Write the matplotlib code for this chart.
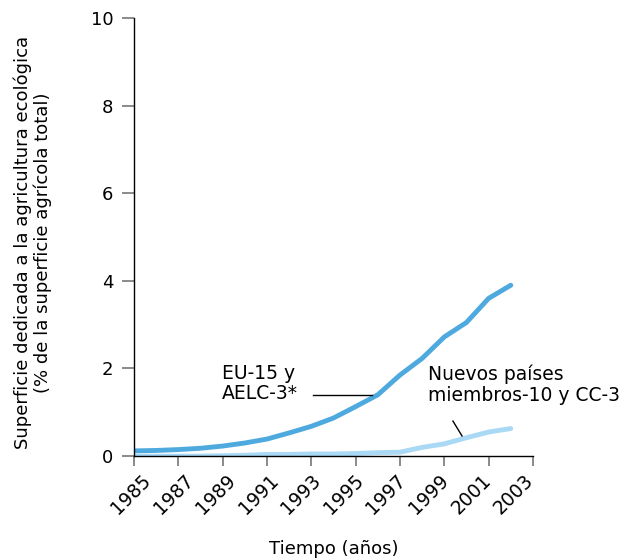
import matplotlib
matplotlib.use('Agg')
import matplotlib.pyplot as plt
from matplotlib.transforms import ScaledTranslation, blended_transform_factory

# Data
years = list(range(1985, 2003))
eu15_aelc3 = [0.12, 0.13, 0.15, 0.18, 0.23, 0.30, 0.39, 0.53, 0.68, 0.87,
              1.13, 1.40, 1.85, 2.23, 2.72, 3.05, 3.60, 3.90]
nuevos_cc3 = [0.0, 0.0, 0.0, 0.0, 0.01, 0.02, 0.04, 0.04, 0.05, 0.05,
              0.06, 0.08, 0.09, 0.20, 0.28, 0.42, 0.55, 0.63]
xticks = list(range(1985, 2004, 2))
yticks = [0, 2, 4, 6, 8, 10]

plt.rcParams['font.family'] = ['DejaVu Sans']

fig = plt.figure(figsize=(6.24, 5.59), dpi=100)
ax = fig.add_axes([0.2147, 0.184, 0.6394, 0.784])

ax.plot(years, eu15_aelc3, color="#4ea9df", linewidth=3.5, solid_capstyle="round")
ax.plot(years, nuevos_cc3, color="#a9d9f5", linewidth=3.5, solid_capstyle="round")

ax.set_xlim(1985, 2003)
ax.set_ylim(0, 10)
ax.set_xticks(xticks)
ax.set_yticks(yticks)
ax.tick_params(axis="x", labelbottom=False, length=7.5)
ax.tick_params(axis="y", labelsize=13, length=9, pad=6)
ax.tick_params(color="#777777", width=1.2)

# rotated year labels; in the reference they drift slightly left of the ticks
xtrans = blended_transform_factory(ax.transData, ax.transAxes)
n = len(xticks)
for i, yr in enumerate(xticks):
    dx = (-3 - 16 * i / (n - 1)) / 100
    off = ScaledTranslation(dx, -15 / 100, fig.dpi_scale_trans)
    ax.text(yr, 0, str(yr), transform=xtrans + off, rotation=45,
            ha="center", va="top", fontsize=13.5, clip_on=False)

for side in ["top", "right"]:
    ax.spines[side].set_visible(False)
for side in ["left", "bottom"]:
    ax.spines[side].set_color("black")
    ax.spines[side].set_linewidth(1.0)

# Annotations
ax.text(1988.97, 1.66, "EU-15 y\nAELC-3*", ha="left", va="center",
        fontsize=13.5, linespacing=1.1)
ax.plot([1993.07, 1995.74], [1.39, 1.39], color="black", linewidth=1)
ax.text(1998.26, 1.63, "Nuevos países\nmiembros-10 y CC-3", ha="left",
        va="center", fontsize=13.5, linespacing=1.1)
ax.plot([1999.39, 1999.8], [0.80, 0.46], color="black", linewidth=1)

ax.set_ylabel("Superficie dedicada a la agricultura ecológica\n"
              "(% de la superficie agrícola total)", fontsize=13,
              linespacing=1.15)
ax.yaxis.set_label_coords(-0.205, 0.487)
ax.set_xlabel("Tiempo (años)", fontsize=13, va="top")
ax.xaxis.set_label_coords(0.5, -0.192)

fig.savefig("out.png", dpi=100)
